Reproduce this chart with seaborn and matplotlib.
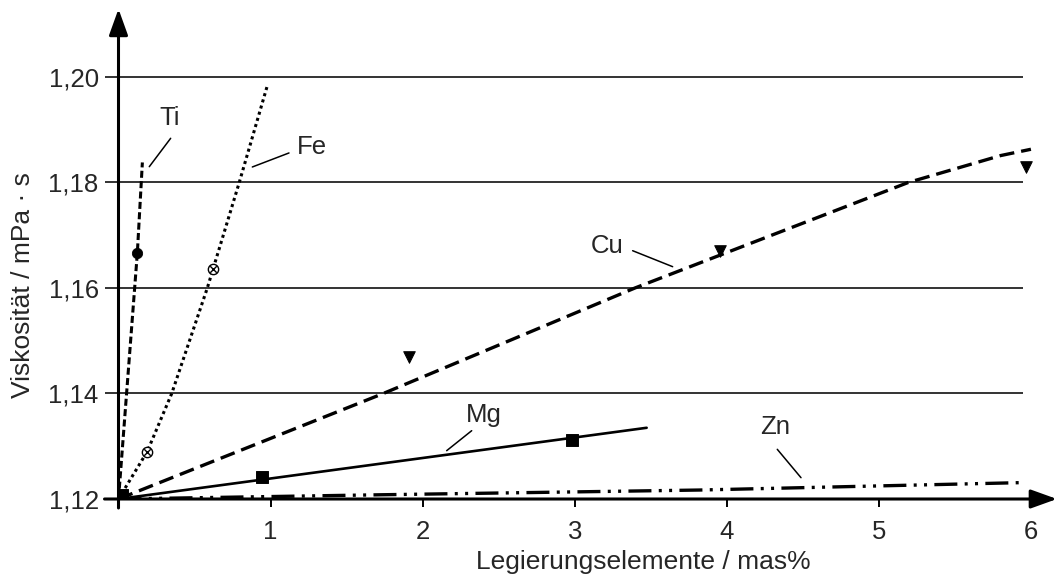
import matplotlib
matplotlib.use("Agg")
import matplotlib.pyplot as plt
import seaborn as sns

# Viscosity of aluminium melts vs. alloying element content
ti_line_x = [0.0, 0.124, 0.157]
ti_line_y = [1.12, 1.1667, 1.1838]
ti_pts_x = [0.124]
ti_pts_y = [1.1667]

fe_line_x = [0.0, 0.189, 0.35, 0.584, 0.794, 0.981]
fe_line_y = [1.12, 1.129, 1.14, 1.16, 1.18, 1.1986]
fe_pts_x = [0.189, 0.623]
fe_pts_y = [1.129, 1.1636]

cu_line_x = [0.0, 1.741, 3.396, 5.193, 5.80, 6.0]
cu_line_y = [1.12, 1.14, 1.16, 1.18, 1.1851, 1.1863]
cu_pts_x = [1.912, 3.955, 5.967]
cu_pts_y = [1.1469, 1.1671, 1.183]

mg_line_x = [0.0, 3.473]
mg_line_y = [1.12, 1.1335]
mg_pts_x = [0.02, 0.941, 2.984]
mg_pts_y = [1.1207, 1.1242, 1.1312]

zn_line_x = [0.0, 1.72, 3.82, 5.93]
zn_line_y = [1.12, 1.1208, 1.1217, 1.1231]

y_ticks = [1.12, 1.14, 1.16, 1.18, 1.20]
y_labels = ["1,12", "1,14", "1,16", "1,18", "1,20"]
x_ticks = [0, 1, 2, 3, 4, 5, 6]
x_labels = ["", "1", "2", "3", "4", "5", "6"]

sns.set_style("white")
plt.rcParams["font.family"] = ["Liberation Sans", "DejaVu Sans"]

W, H = 1058, 577
fig = plt.figure(figsize=(W / 100, H / 100), dpi=100)
ax = fig.add_axes([118.5 / W, (H - 499) / H, (W - 118.5) / W, (499 - 8) / H])
ax.set_xlim(0, 6.178)
ax.set_ylim(1.12, 1.21308)
for s in ax.spines.values():
    s.set_visible(False)

# horizontal grid
ax.hlines(y_ticks[1:], 0, 5.948, color="#333333", lw=1.4, zorder=1)

# axes with arrow heads
arrow = dict(arrowstyle="-|>,head_length=1.0,head_width=0.36", lw=2.2,
             color="black", mutation_scale=16, shrinkA=0, shrinkB=0)
ax.annotate("", xy=(6.171, 1.12), xytext=(-0.092, 1.12),
            arrowprops=arrow, annotation_clip=False, zorder=5)
ax.annotate("", xy=(0, 1.2129), xytext=(0, 1.12 - 9 / 5275),
            arrowprops=arrow, annotation_clip=False, zorder=5)

# curves
sns.lineplot(x=ti_line_x, y=ti_line_y, ax=ax, color="black", lw=2.2,
             linestyle=(0, (2.3, 1.1)), estimator=None, zorder=3)
sns.lineplot(x=fe_line_x, y=fe_line_y, ax=ax, color="black", lw=2.2,
             linestyle=(0, (1.0, 1.1)), estimator=None, zorder=3)
sns.lineplot(x=cu_line_x, y=cu_line_y, ax=ax, color="black", lw=2.4,
             linestyle=(0, (4.5, 2.1)), estimator=None, zorder=3)
sns.lineplot(x=mg_line_x, y=mg_line_y, ax=ax, color="black", lw=1.9,
             estimator=None, zorder=3)
sns.lineplot(x=zn_line_x, y=zn_line_y, ax=ax, color="black", lw=2.4,
             linestyle=(0, (6.9, 2.2, 0.9, 2.2, 0.9, 2.2)),
             estimator=None, zorder=3)

# measured points
sns.scatterplot(x=ti_pts_x, y=ti_pts_y, ax=ax, marker="o", s=55,
                color="black", edgecolor="black", zorder=4)
sns.scatterplot(x=fe_pts_x, y=fe_pts_y, ax=ax, marker="o", s=55,
                color="white", edgecolor="black", linewidth=1.0, zorder=4)
sns.scatterplot(x=fe_pts_x, y=fe_pts_y, ax=ax, marker="x", s=22,
                color="black", linewidth=1.0, zorder=5)
sns.scatterplot(x=cu_pts_x, y=cu_pts_y, ax=ax, marker="v", s=70,
                color="black", edgecolor="black", zorder=4)
sns.scatterplot(x=mg_pts_x, y=mg_pts_y, ax=ax, marker="s", s=70,
                color="black", edgecolor="black", zorder=4)

# curve labels with leader lines
fs = 18.5
labels = [
    ("Ti", 0.3386, 1.19223, "center", [(0.343, 1.18838), (0.2025, 1.18300)]),
    ("Fe", 1.1718, 1.18673, "left", [(1.1211, 1.1856), (0.880, 1.18294)]),
    ("Cu", 3.2154, 1.16796, "center", [(3.381, 1.16707), (3.644, 1.16404)]),
    ("Mg", 2.399, 1.13592, "center", [(2.3225, 1.13295), (2.158, 1.12916)]),
    ("Zn", 4.315, 1.13371, "center", [(4.332, 1.12942), (4.488, 1.12404)]),
]
for txt, tx, ty, ha, seg in labels:
    ax.text(tx, ty, txt, fontsize=fs, ha=ha, va="center", zorder=6)
    ax.plot([seg[0][0], seg[1][0]], [seg[0][1], seg[1][1]],
            color="black", lw=1.1, zorder=6)

ax.set_yticks(y_ticks)
ax.set_yticklabels(y_labels)
ax.set_xticks(x_ticks)
ax.set_xticklabels(x_labels)
ax.tick_params(axis="y", direction="out", length=10, width=1.4,
               color="#333333", pad=4.3, labelsize=fs, left=True)
ax.tick_params(axis="x", direction="out", length=5.8, width=1.4,
               color="black", pad=9, labelsize=fs, bottom=True)
ax.set_xlabel("")
ax.set_ylabel("")

fig.text(643 / W, 1 - 562 / H, "Legierungselemente / mas%", fontsize=19,
         ha="center", va="center")
fig.text(23 / W, 1 - 285 / H, "Viskosität / mPa · s", fontsize=19,
         ha="center", va="center", rotation=90)

fig.savefig("out.png", dpi=100)
